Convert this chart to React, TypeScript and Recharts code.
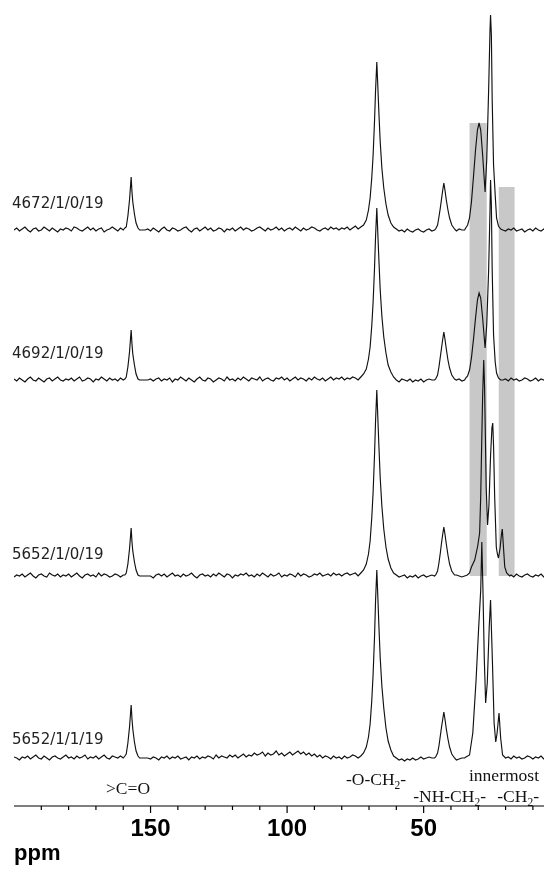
import React from 'react';
import { ComposedChart, Line, XAxis, YAxis, ReferenceArea } from 'recharts';

// Baseline noise, one value per ppm from 200 down to 3 (height above each trace's own baseline)
const noise1 = [
  0, 2, -1, 1, 3, 0, -2, 1, 2, -1, 0, 3, 1, -1, 2, 0, -2, 1, 0, 2,
  1, -1, 3, 2, 0, -1, 1, 3, 0, 2, -1, 1, 2, -2, 0, 1, 3, 1, -1, 2,
  0, 1, 2, 0, 0, 0, 0, 0, 0, 1, -1, 2, 0, -2, 1, 3, 0, -1, 2, 1,
  -1, 0, 2, 3, 0, -2, 1, 2, -1, 1, 3, 0, 2, -1, 0, 2, 1, -2, 1, 0,
  2, -1, 1, 3, 0, 2, 1, -1, 0, 2, 3, 1, -1, 2, 0, 1, 3, 0, 2, -1,
  1, 2, 0, 3, 1, -1, 2, 0, 1, 3, 2, 0, -1, 1, 2, 0, 3, 1, 2, 0,
  2, 1, 3, 0, 2, 4, 1, 3, 2, 0, 0, 0, 0, 0, 0, 0, 0, 0, 0, 0,
  1, -1, 0, -2, 1, -1, -2, 0, 1, -1, -2, 0, 1, -1, 0, 0, 0, 0, 0, 0,
  0, 0, -1, 1, 0, 0, 0, 0, 0, 0, 0, 0, 0, 0, 0, 0, 0, 0, 0, 0,
  -1, 1, 0, 2, -1, 0, 1, -2, 0, 1, -1, 2, 0, -1, 1, -2, 0, -1,
];
const noise2 = [
  1, -1, 2, 0, -2, 1, 3, 0, -1, 2, 0, -2, 1, 2, -1, 1, 3, 0, -1, 1,
  0, 2, -1, 1, 3, -1, 0, 2, 1, -2, 1, 0, 3, 1, -1, 2, 0, 1, -1, 2,
  0, 0, 0, 0, 0, 0, 0, 0, 0, 0, 1, -1, 1, 2, -1, 1, 0, 2, -2, 1,
  0, 3, 1, -1, 2, 0, -2, 1, 3, 0, -1, 2, 1, -2, 0, 2, 1, -1, 3, 0,
  1, -1, 2, 0, 3, 1, -1, 2, 1, 0, 3, -1, 1, 2, 0, -1, 2, 1, 3, 0,
  2, -1, 1, 3, 0, 2, 1, -1, 2, 0, 3, 1, 0, 2, -1, 1, 3, 0, 2, 1,
  3, 0, 2, 1, 3, 2, 0, 0, 0, 0, 0, 0, 0, 0, 0, 0, 0, 0, 0, 0,
  0, -2, 1, 0, -1, 1, -2, 0, -1, 1, -2, 0, 1, 0, 0, 0, 0, 0, 0, 0,
  0, 0, 0, 1, -1, 0, 0, 0, 0, 0, 0, 0, 0, 0, 0, 0, 0, 0, 0, 0,
  1, -1, 2, 0, 1, -1, 0, 2, 1, -1, 0, 2, -1, 1, 0, 2, 0, 1,
];
const noise3 = [
  -1, 1, 0, 2, -1, 1, 3, 0, -2, 1, 2, 0, -1, 3, 1, 0, 2, -1, 1, 0,
  2, -1, 1, 3, 0, -2, 1, 2, 0, 1, -1, 3, 0, 2, 1, -1, 0, 2, 1, -1,
  1, 0, 0, 0, 0, 0, 0, 0, 0, 0, 0, -2, 1, 2, 0, 2, -1, 1, 3, 0,
  1, -1, 2, 0, 1, 3, 0, -2, 1, 2, 0, 1, -1, 2, 0, 3, 1, -1, 2, 1,
  -2, 1, 0, 2, 1, 3, 0, 1, -1, 2, 0, 3, 1, -1, 2, 0, 1, 3, -1, 1,
  0, 2, 1, -1, 3, 0, 2, 1, -1, 0, 2, 1, 3, 0, 1, 2, 0, 3, 1, 2,
  0, 2, 3, 1, 2, 3, 0, 0, 0, 0, 0, 0, 0, 0, 0, 0, 0, 0, 0, 0,
  1, -1, 0, 1, -2, 0, -1, 1, -2, 0, 1, -1, 0, 1, 0, 0, 0, 0, 0, 0,
  0, 0, 1, 0, -1, 0, 0, 0, 0, 0, 0, 0, 0, 0, 0, 0, 0, 0, 0, 0,
  0, 0, 1, -1, 2, 0, -1, 1, 2, 0, -1, 1, 0, 2, -1, 1, 0, 1,
];
const noise4 = [
  1, 0, -2, 1, 0, 2, -1, 1, 3, 0, -1, 2, 0, -2, 1, 2, 0, -1, 1, 3,
  0, 1, -1, 2, 0, 1, 3, -1, 1, 0, 2, -1, 1, 3, 0, -1, 2, 1, 0, 2,
  0, 0, 0, 0, 0, 0, 0, 0, 0, 0, -1, 1, 0, -2, 1, 0, 2, -1, 1, 0,
  2, -1, 0, 1, -2, 1, 0, 2, -1, 1, 0, 2, 1, -1, 3, 0, 2, 1, 0, 3,
  1, 3, 0, 2, 4, 1, 3, 2, 5, 3, 4, 6, 2, 5, 3, 4, 7, 3, 5, 2,
  4, 6, 3, 5, 7, 4, 6, 3, 5, 2, 4, 1, 3, 0, 2, 1, -1, 2, 0, 1,
  -1, 2, 0, 1, 3, 2, 0, 0, 0, 0, 0, 0, 0, 0, 0, 0, 0, 0, 0, 0,
  0, -2, -1, -3, -1, -2, 0, -2, -1, 1, -1, 0, 1, 0, 0, 0, 0, 0, 0, 0,
  0, 0, -2, -1, 0, 0, 0, 0, 0, 0, 0, 0, 0, 0, 0, 0, 0, 0, 0, 0,
  0, 1, -1, 2, 0, 1, -1, 0, 2, 1, -1, 1, 0, 2, -1, 1, 0, 1,
];

// Peaks: [ppm, height]
const carbonylPeaks: [number, number][][] = [
  [[159.4, 2], [158.9, 3], [158.3, 14], [157.7, 30], [157.1, 53], [156.8, 38], [156.5, 28], [155.9, 16], [155.3, 7], [154.6, 2]],
  [[159.4, 1], [158.9, 3], [158.3, 13], [157.7, 28], [157.1, 50], [156.8, 36], [156.5, 26], [155.9, 15], [155.3, 6], [154.6, 1]],
  [[159.4, 1], [158.9, 3], [158.3, 12], [157.7, 27], [157.1, 48], [156.8, 34], [156.5, 25], [155.9, 14], [155.3, 6], [154.6, 1]],
  [[159.4, 2], [158.9, 4], [158.3, 15], [157.7, 31], [157.1, 53], [156.8, 39], [156.5, 29], [155.9, 16], [155.3, 7], [154.6, 2]],
];
const oxyPeaks: [number, number][][] = [
  [[73, 3], [72, 5], [71, 10], [70.2, 20], [69.6, 32], [69, 52], [68.5, 75], [68, 108], [67.6, 140], [67.15, 168],
   [66.8, 145], [66.4, 118], [65.9, 88], [65.3, 62], [64.6, 42], [63.8, 26], [63, 15], [62, 7], [61, 3]],
  [[73, 3], [72, 6], [71, 11], [70.2, 21], [69.6, 33], [69, 54], [68.5, 78], [68, 111], [67.6, 144], [67.15, 172],
   [66.8, 148], [66.4, 121], [65.9, 90], [65.3, 64], [64.6, 43], [63.8, 27], [63, 15], [62, 8], [61, 3]],
  [[73, 3], [72, 6], [71, 12], [70.2, 22], [69.6, 35], [69, 58], [68.5, 84], [68, 120], [67.6, 156], [67.15, 186],
   [66.8, 160], [66.4, 131], [65.9, 98], [65.3, 70], [64.6, 47], [63.8, 29], [63, 17], [62, 8], [61, 3]],
  [[73, 2], [72, 5], [71, 11], [70.2, 21], [69.6, 34], [69, 57], [68.5, 84], [68, 120], [67.6, 158], [67.15, 188],
   [66.8, 163], [66.4, 133], [65.9, 100], [65.3, 72], [64.6, 50], [63.8, 30], [63, 17], [62, 8], [61, 2]],
];
const aminePeaks: [number, number][][] = [
  [[45.6, 1], [44.9, 5], [44.4, 13], [43.9, 22], [43.5, 30], [43, 40], [42.6, 47], [42.2, 40], [41.7, 30], [41.1, 20], [40.5, 12], [39.7, 5], [38.7, 1]],
  [[45.6, 1], [44.9, 5], [44.4, 13], [43.9, 23], [43.5, 31], [43, 41], [42.6, 48], [42.2, 41], [41.7, 31], [41.1, 20], [40.5, 12], [39.7, 5], [38.7, 1]],
  [[45.6, 1], [44.9, 5], [44.4, 13], [43.9, 23], [43.5, 32], [43, 42], [42.6, 49], [42.2, 42], [41.7, 32], [41.1, 21], [40.5, 12], [39.7, 5], [38.7, 1]],
  [[45.6, 1], [44.9, 5], [44.4, 12], [43.9, 22], [43.5, 30], [43, 39], [42.6, 46], [42.2, 39], [41.7, 29], [41.1, 19], [40.5, 11], [39.7, 4], [38.7, 0]],
];
const methylenePeaks: [number, number][][] = [
  [[34.6, 2], [33.9, 5], [33.2, 12], [32.5, 28], [31.7, 55], [31, 80], [30.3, 100], [29.7, 107], [29.1, 100], [28.4, 75],
   [27.5, 38], [26.9, 70], [26.2, 140], [25.7, 200], [25.5, 215], [25.2, 195], [24.9, 130], [24.4, 65], [23.8, 35],
   [23.3, 12], [22.6, 4], [21.8, 1]],
  [[34.6, 2], [33.9, 4], [33.2, 10], [32.5, 22], [31.7, 42], [31, 62], [30.3, 80], [29.7, 87], [29.1, 82], [28.4, 62],
   [27.5, 32], [26.9, 55], [26.2, 110], [25.7, 170], [25.5, 200], [25.2, 175], [24.9, 110], [24.4, 45], [23.8, 18],
   [23.3, 7], [22.6, 2], [21.8, 0]],
  [[34, 1], [33.2, 3], [32.5, 9], [31.3, 16], [30.2, 30], [29.5, 43], [29.1, 80], [28.8, 125], [28.4, 180], [28, 216],
   [27.7, 190], [27.4, 140], [27.1, 89], [26.6, 51], [26.1, 70], [25.5, 120], [25, 148], [24.7, 153], [24.4, 130],
   [24, 80], [23.4, 29], [23, 22], [22.6, 18], [22, 28], [21.5, 42], [21.2, 47], [20.8, 30], [20.3, 9], [19.6, 3], [18.5, 0]],
  [[34.5, 1], [33.2, 3], [32, 25], [30.8, 78], [29.9, 128], [29.1, 168], [28.7, 216], [28.3, 170], [27.8, 100],
   [27.3, 55], [26.7, 75], [26, 130], [25.5, 158], [24.8, 95], [24.2, 35], [23.6, 16], [23.1, 25], [22.4, 45],
   [21.8, 20], [21.1, 3], [20, 0]],
];

const noiseStartPpm = 200;
const noises = [noise1, noise2, noise3, noise4];
const traceNames = ['4672/1/0/19', '4692/1/0/19', '5652/1/0/19', '5652/1/1/19'];
const traceOffsets = [576, 426, 230, 48];

const tickValues = [190, 180, 170, 160, 150, 140, 130, 120, 110, 100, 90, 80, 70, 60, 50, 40, 30, 20, 10];
const labelledTicks = [150, 100, 50];

// shaded bands
const bandFrom = [33.2, 22.5];
const bandTo = [26.9, 16.7];
const bandTop = [683, 619];
const bandBottom = 230;

const W = 544;
const H = 860;

function buildTrace(i: number) {
  const groups = [carbonylPeaks[i], oxyPeaks[i], aminePeaks[i], methylenePeaks[i]];
  const windows = groups.map((g) => [Math.min(...g.map((p) => p[0])), Math.max(...g.map((p) => p[0]))]);
  const pts: { x: number; y: number }[] = [];
  noises[i].forEach((v, k) => {
    const ppm = noiseStartPpm - k;
    if (!windows.some(([lo, hi]) => ppm >= lo && ppm <= hi)) pts.push({ x: ppm, y: v + traceOffsets[i] });
  });
  groups.forEach((g) => g.forEach(([x, h]) => pts.push({ x, y: h + traceOffsets[i] })));
  pts.sort((a, b) => b.x - a.x);
  return pts;
}

const Tick = (props: any) => {
  const { x, y, payload } = props;
  const v = payload.value;
  const major = labelledTicks.includes(v);
  return (
    <g>
      <line x1={x} x2={x} y1={y} y2={y + (major ? 7 : 4)} stroke="#000" strokeWidth={1.2} />
      {major && (
        <text x={x} y={y + 30} textAnchor="middle" fontFamily="Liberation Sans, Arial, sans-serif" fontWeight="bold" fontSize={24} fill="#000">
          {v}
        </text>
      )}
    </g>
  );
};

const labelY = [200, 350, 551, 736];

export default function App() {
  const rows = traceNames.map((_, i) => buildTrace(i));
  const serif = 'Liberation Serif, Times New Roman, serif';
  const fs = 17.5;
  return (
    <div style={{ position: 'relative', width: W, height: H, background: '#fff' }}>
      <ComposedChart width={W} height={H} margin={{ top: 0, right: 0, bottom: 22, left: 6 }}>
        <XAxis
          type="number"
          dataKey="x"
          domain={[3, 200]}
          reversed
          allowDataOverflow
          ticks={tickValues}
          interval={0}
          tickSize={0}
          tickMargin={0}
          tickLine={false}
          tick={<Tick />}
          height={40}
          axisLine={{ stroke: '#000', strokeWidth: 1.2 }}
        />
        <YAxis type="number" domain={[0, 798]} hide allowDataOverflow />
        {bandFrom.map((b, i) => (
          <ReferenceArea
            key={'b' + i}
            x1={b}
            x2={bandTo[i]}
            y1={bandBottom}
            y2={bandTop[i]}
            fill="#c8c8c8"
            fillOpacity={1}
            stroke="none"
            ifOverflow="visible"
            zIndex={-10}
            style={{ mixBlendMode: 'multiply' }}
          />
        ))}
        {rows.map((r, i) => (
          <Line
            key={'t' + i}
            data={r}
            dataKey="y"
            type="linear"
            dot={false}
            activeDot={false}
            stroke="#111"
            strokeWidth={1.15}
            strokeLinejoin="miter"
            isAnimationActive={false}
          />
        ))}
      </ComposedChart>
      <svg width={W} height={H} style={{ position: 'absolute', left: 0, top: 0, pointerEvents: 'none' }}>
        {traceNames.map((n, i) => (
          <text key={n + i} x={4} y={labelY[i]} fontFamily="DejaVu Sans, sans-serif" fontSize={15} fill="#222">
            {n}
          </text>
        ))}
        <text x={98} y={786} fontFamily={serif} fontSize={fs} fill="#111">&gt;C=O</text>
        <text x={338} y={777} fontFamily={serif} fontSize={fs} fill="#111">
          -O-CH<tspan fontSize={11.5} dy={4}>2</tspan><tspan dy={-4}>-</tspan>
        </text>
        <text x={478} y={794} textAnchor="end" fontFamily={serif} fontSize={fs} fill="#111">
          -NH-CH<tspan fontSize={11.5} dy={4}>2</tspan><tspan dy={-4}>-</tspan>
        </text>
        <text x={531} y={773} textAnchor="end" fontFamily={serif} fontSize={fs} fill="#111">innermost</text>
        <text x={531} y={794} textAnchor="end" fontFamily={serif} fontSize={fs} fill="#111">
          -CH<tspan fontSize={11.5} dy={4}>2</tspan><tspan dy={-4}>-</tspan>
        </text>
        <text x={6} y={852} fontFamily="Liberation Sans, Arial, sans-serif" fontWeight="bold" fontSize={22} fill="#000">ppm</text>
      </svg>
    </div>
  );
}
